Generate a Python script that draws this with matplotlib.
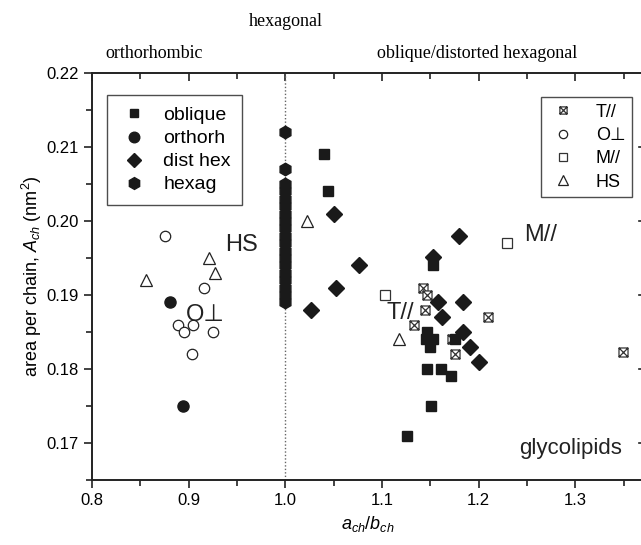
import matplotlib
matplotlib.use("Agg")
import matplotlib.pyplot as plt
from matplotlib.path import Path
from matplotlib.ticker import MultipleLocator, FormatStrFormatter

plt.rcParams['font.family'] = ['Liberation Sans', 'DejaVu Sans']
plt.rcParams['mathtext.fontset'] = 'custom'
plt.rcParams['mathtext.rm'] = 'Liberation Sans'
plt.rcParams['mathtext.it'] = 'Liberation Sans:italic'

# ---- data ----
oblique_x = [1.0395, 1.0446, 1.153, 1.147, 1.146, 1.153, 1.150, 1.175, 1.147, 1.161, 1.171, 1.151, 1.126]
oblique_y = [0.209, 0.204, 0.194, 0.185, 0.184, 0.184, 0.183, 0.184, 0.180, 0.180, 0.179, 0.175, 0.171]

orthorh_x = [0.881, 0.894]
orthorh_y = [0.189, 0.175]

disthex_x = [1.050, 1.076, 1.052, 1.027, 1.153, 1.180, 1.158, 1.184, 1.162, 1.184, 1.191, 1.200]
disthex_y = [0.201, 0.194, 0.191, 0.188, 0.1952, 0.198, 0.189, 0.189, 0.187, 0.185, 0.183, 0.181]

hexag_x = [1.0] * 19
hexag_y = [0.189, 0.190, 0.191, 0.192, 0.193, 0.194, 0.195, 0.196, 0.197, 0.198,
           0.199, 0.200, 0.201, 0.202, 0.203, 0.204, 0.205, 0.207, 0.212]

tpar_x = [1.142, 1.147, 1.144, 1.133, 1.210, 1.172, 1.175, 1.349]
tpar_y = [0.191, 0.190, 0.188, 0.186, 0.187, 0.184, 0.182, 0.1823]

operp_x = [0.875, 0.916, 0.889, 0.895, 0.904, 0.925, 0.9035]
operp_y = [0.198, 0.191, 0.186, 0.185, 0.186, 0.185, 0.182]

mpar_x = [1.103, 1.229]
mpar_y = [0.190, 0.197]

hs_x = [0.856, 0.921, 0.927, 1.022, 1.118]
hs_y = [0.192, 0.195, 0.193, 0.200, 0.184]

# crossed square marker
xsq = Path([(-1, -1), (1, -1), (1, 1), (-1, 1), (-1, -1), (-1, -1), (1, 1), (-1, 1), (1, -1)],
           [Path.MOVETO, Path.LINETO, Path.LINETO, Path.LINETO, Path.CLOSEPOLY,
            Path.MOVETO, Path.LINETO, Path.MOVETO, Path.LINETO])

fig = plt.figure(figsize=(6.41, 5.45), dpi=100)
ax = fig.add_axes([92/641, 65/545, 551/641, 407/545])

ax.axvline(1.0, color='#666666', linestyle=(0, (1, 1.5)), linewidth=1.0, zorder=1)

l_t, = ax.plot(tpar_x, tpar_y, linestyle='none', marker=xsq, markersize=6.5, mfc='white', mec='#333333', mew=0.9, zorder=2)
l_o, = ax.plot(operp_x, operp_y, linestyle='none', marker='o', markersize=7.5, mfc='white', mec='#222222', mew=0.9, zorder=2)
l_m, = ax.plot(mpar_x, mpar_y, linestyle='none', marker='s', markersize=6.5, mfc='white', mec='#333333', mew=0.9, zorder=2)
l_h, = ax.plot(hs_x, hs_y, linestyle='none', marker='^', markersize=9, mfc='white', mec='#222222', mew=0.9, zorder=2)

l_ob, = ax.plot(oblique_x, oblique_y, linestyle='none', marker='s', markersize=6.5, color='#1a1a1a', zorder=3)
l_or, = ax.plot(orthorh_x, orthorh_y, linestyle='none', marker='o', markersize=8, color='#1a1a1a', zorder=3)
l_dh, = ax.plot(disthex_x, disthex_y, linestyle='none', marker='D', markersize=8, color='#1a1a1a', zorder=3)
l_hx, = ax.plot(hexag_x, hexag_y, linestyle='none', marker='h', markersize=9, color='#1a1a1a', zorder=3)

ax.set_xlim(0.8, 1.37)
ax.set_ylim(0.165, 0.22)
ax.xaxis.set_major_locator(MultipleLocator(0.1))
ax.xaxis.set_minor_locator(MultipleLocator(0.05))
ax.yaxis.set_major_locator(MultipleLocator(0.01))
ax.yaxis.set_minor_locator(MultipleLocator(0.005))
ax.xaxis.set_major_formatter(FormatStrFormatter('%.1f'))
ax.yaxis.set_major_formatter(FormatStrFormatter('%.2f'))
ax.tick_params(axis='both', which='both', labelsize=12, width=1.2, color='#222222')
ax.tick_params(axis='x', which='major', length=6, direction='out', top=False)
ax.tick_params(axis='x', which='minor', length=4, direction='out', top=False)
ax.tick_params(axis='y', which='major', length=6, direction='out', right=False)
ax.tick_params(axis='y', which='minor', length=4, direction='out', right=False)
ax.spines['right'].set_visible(False)
for s in ['left', 'bottom', 'top']:
    ax.spines[s].set_linewidth(1.4)
    ax.spines[s].set_color('#222222')
# inward ticks on top and right (mirror axes)
sec = ax.secondary_xaxis('top')
sec.xaxis.set_major_locator(MultipleLocator(0.1))
sec.xaxis.set_minor_locator(MultipleLocator(0.05))
sec.tick_params(which='major', direction='in', length=6, width=1.2, labeltop=False, color='#222222')
sec.tick_params(which='minor', direction='in', length=4, width=1.2, color='#222222')
sec.spines['top'].set_visible(False)
for yv in [0.17, 0.18, 0.19, 0.20, 0.21]:
    ax.plot([1.0, 0.992], [yv, yv], transform=ax.get_yaxis_transform(), color='#222222', lw=1.2, clip_on=False, zorder=1)

ax.set_xlabel(r'$a_{ch}/b_{ch}$', fontsize=13, labelpad=4)
ax.set_ylabel(r'area per chain, $A_{ch}$ (nm$^2$)', fontsize=13, labelpad=2)

leg1 = ax.legend([l_ob, l_or, l_dh, l_hx], ['oblique', 'orthorh', 'dist hex', 'hexag'],
                 loc='upper left', bbox_to_anchor=(0.027, 0.946), borderaxespad=0,
                 fontsize=14, frameon=True, fancybox=False, edgecolor='#222222',
                 labelspacing=0.28, handlelength=1.6, handletextpad=0.7, borderpad=0.6, markerscale=0.95)
leg1.get_frame().set_linewidth(1.0)
ax.add_artist(leg1)
leg2 = ax.legend([l_t, l_o, l_m, l_h], ['T//', 'O\u22a5', 'M//', 'HS'],
                 loc='upper right', bbox_to_anchor=(0.9795, 0.940), borderaxespad=0,
                 fontsize=13, frameon=True, fancybox=False, edgecolor='#222222',
                 labelspacing=0.35, handlelength=1.8, handletextpad=0.9, borderpad=0.35, markerscale=0.8)
leg2.get_frame().set_linewidth(1.0)

ax.text(0.955, 0.1968, 'HS', fontsize=17, ha='center', va='center', color='#222222')
ax.text(0.917, 0.1873, 'O\u22a5', fontsize=17, ha='center', va='center', color='#222222')
ax.text(1.119, 0.1876, 'T//', fontsize=17, ha='center', va='center', color='#222222')
ax.text(1.264, 0.1981, 'M//', fontsize=17, ha='center', va='center', color='#222222')
ax.text(1.295, 0.1693, 'glycolipids', fontsize=16, ha='center', va='center', color='#222222')

fig.text(286/641, 1 - 22/545, 'hexagonal', family='Liberation Serif', fontsize=13, ha='center', va='center')
fig.text(154/641, 1 - 53/545, 'orthorhombic', family='Liberation Serif', fontsize=13, ha='center', va='center')
fig.text(477/641, 1 - 53/545, 'oblique/distorted hexagonal', family='Liberation Serif', fontsize=13, ha='center', va='center')

fig.savefig('out.png', dpi=100)
